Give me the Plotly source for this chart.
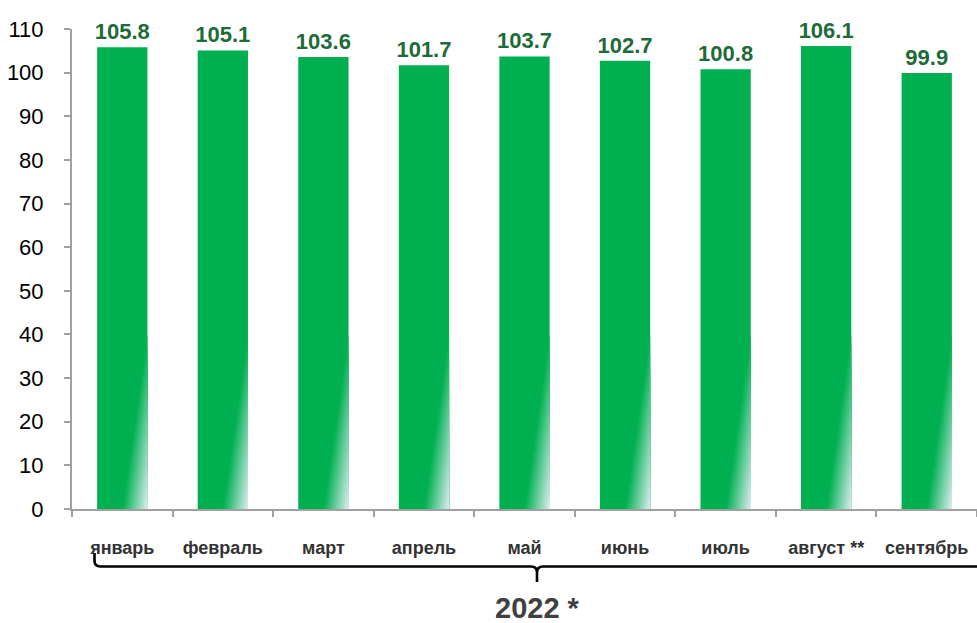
import plotly.graph_objects as go

months = ["январь", "февраль", "март", "апрель", "май", "июнь", "июль", "август **", "сентябрь"]
values = [105.8, 105.1, 103.6, 101.7, 103.7, 102.7, 100.8, 106.1, 99.9]
value_labels = ["105.8", "105.1", "103.6", "101.7", "103.7", "102.7", "100.8", "106.1", "99.9"]
y_ticks = list(range(0, 111, 10))
year_label = "2022 *"

W, H = 977, 623
ML, MR, MT, MB = 72, 0, 29, 114
PW, PH = W - ML - MR, H - MT - MB

GREEN = (0, 176, 80)
PALE = (222, 236, 242)
BAR_W = 0.5
GRAD_H = 40.0
N_LEVELS = 16

xs = list(range(len(months)))

fig = go.Figure()
fig.add_trace(go.Bar(
    x=xs, y=values, width=BAR_W,
    marker=dict(color="rgb(%d,%d,%d)" % GREEN, line=dict(width=0)),
    text=["<b>%s</b>" % s for s in value_labels], textposition="outside", cliponaxis=False,
    constraintext="none",
    textfont=dict(family="Liberation Sans, Arial", size=22, color="#1d6b38"),
    hoverinfo="skip",
))

# bottom-right fade of every bar: nested triangles, each lighter, parallel to the diagonal
for k in range(N_LEVELS):
    t = k / N_LEVELS
    f = (k + 0.5) / N_LEVELS
    col = tuple(round(GREEN[j] + (PALE[j] - GREEN[j]) * f) for j in range(3))
    px, py = [], []
    for i, v in zip(xs, values):
        right = i + BAR_W / 2
        left0 = i + (BAR_W / 2) * t
        px += [left0, right, right, left0, None]
        py += [0, GRAD_H * (1 - t), 0, 0, None]
    fig.add_trace(go.Scatter(
        x=px, y=py, mode="lines", fill="toself",
        fillcolor="rgb(%d,%d,%d)" % col, line=dict(width=0),
        hoverinfo="skip", showlegend=False,
    ))


def pxp(x, y):
    return (x - ML) / PW, (MT + PH - y) / PH


def P(x, y):
    a, b = pxp(x, y)
    return "%.5f,%.5f" % (a, b)


yb = 566.5
xc = 537.0
path = (
    "M " + P(94.5, 553) + " L " + P(94.5, 560.5) +
    " Q " + P(94.5, yb) + " " + P(100.5, yb) +
    " L " + P(xc - 6, yb) +
    " Q " + P(xc, yb) + " " + P(xc, yb + 6) +
    " L " + P(xc, 582) +
    " M " + P(xc, yb + 6) +
    " Q " + P(xc, yb) + " " + P(xc + 6, yb) +
    " L " + P(990, yb)
)
fig.add_shape(type="path", path=path, xref="paper", yref="paper",
              line=dict(color="black", width=2.6))

ax, ay = pxp(537, 608)
fig.add_annotation(text="<b>%s</b>" % year_label, x=ax, y=ay, xref="paper", yref="paper",
                   showarrow=False, xanchor="center", yanchor="middle",
                   font=dict(family="Liberation Sans, Arial", size=29, color="#404040"))

fig.update_layout(
    width=W, height=H,
    margin=dict(l=ML, r=MR, t=MT, b=MB, pad=0, autoexpand=False),
    paper_bgcolor="white", plot_bgcolor="white",
    showlegend=False, bargap=0.5,
    font=dict(family="Liberation Sans, Arial"),
    xaxis=dict(
        range=[-0.5, len(months) - 0.5], tickmode="array", tickvals=xs,
        ticktext=["<b>%s</b>" % m for m in months], ticks="",
        tickfont=dict(family="Liberation Sans, Arial", size=18, color="#333333"),
        ticklabelstandoff=21, automargin=False,
        showline=True, linecolor="#a0a0a0", linewidth=2, showgrid=False, zeroline=False,
        minor=dict(tickmode="linear", tick0=-0.5, dtick=1, ticks="outside",
                   ticklen=6, tickwidth=1.5, tickcolor="#a0a0a0", showgrid=False),
        fixedrange=True,
    ),
    yaxis=dict(
        range=[0, 110], tickmode="array", tickvals=y_ticks, ticks="outside",
        ticklen=6, tickwidth=1.5, tickcolor="#a0a0a0",
        tickfont=dict(family="Liberation Sans, Arial", size=22, color="black"),
        ticklabelstandoff=16, automargin=False,
        showline=True, linecolor="#a0a0a0", linewidth=2, showgrid=False, zeroline=False,
        fixedrange=True,
    ),
)

fig.write_html(
    "out.html",
    config={"displayModeBar": False},
    post_script="document.body.style.margin='0px';document.body.style.overflow='hidden';",
)
